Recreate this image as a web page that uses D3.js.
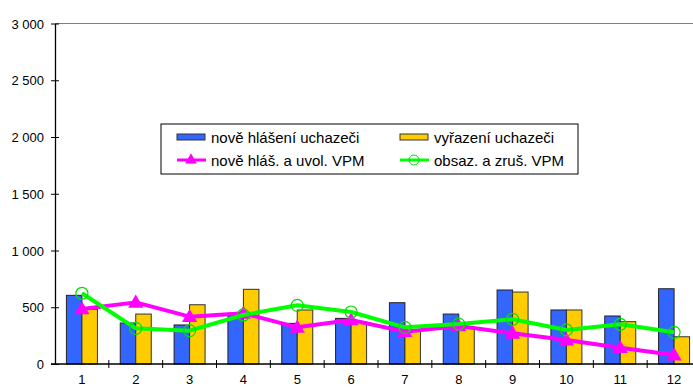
<!DOCTYPE html>
<html><head><meta charset="utf-8">
<script src="https://cdn.jsdelivr.net/npm/d3@7"></script>
<style>body{margin:0;background:#fff}svg{display:block;font-family:"Liberation Sans",Arial,sans-serif}</style>
</head><body>
<svg id="c" width="693" height="387"></svg>
<script>
const categories = ["1","2","3","4","5","6","7","8","9","10","11","12"];
const noveHlaseni = [605,361,344,426,358,402,540,440,652,476,423,663];
const vyrazeni = [482,440,522,658,476,370,291,330,634,476,373,240];
const noveVPM = [485,543,417,447,323,388,285,335,270,211,144,79];
const obsazVPM = [623,314,294,432,517,458,323,352,394,300,350,279];
const yTicks = [0,500,1000,1500,2000,2500,3000];
const legendLabels = ["nově hlášení uchazeči","vyřazení uchazeči","nově hláš. a uvol. VPM","obsaz. a zruš. VPM"];

const svg = d3.select("#c");
const x0 = 55, x1 = 701, yTop = 23.5, yBot = 364;
const x = d3.scaleBand().domain(categories).range([x0, x1]);
const y = d3.scaleLinear().domain([0,3000]).range([yBot, yTop]);
const fmt = v => d3.format(",")(v).replace(/,/g, " ");
const bw = 15.5;

// top border
svg.append("line").attr("x1",x0).attr("x2",x1).attr("y1",yTop).attr("y2",yTop).attr("stroke","#808080").attr("stroke-width",1);

// bars
const g = svg.append("g");
g.selectAll(".b1").data(categories).join("rect")
  .attr("x", d => x(d)+x.bandwidth()/2-bw).attr("width", bw)
  .attr("y", (d,i) => y(noveHlaseni[i])).attr("height", (d,i) => yBot - y(noveHlaseni[i]))
  .attr("fill","#3366FF").attr("stroke","#222").attr("stroke-width",1);
g.selectAll(".b2").data(categories).join("rect")
  .attr("x", d => x(d)+x.bandwidth()/2).attr("width", bw)
  .attr("y", (d,i) => y(vyrazeni[i])).attr("height", (d,i) => yBot - y(vyrazeni[i]))
  .attr("fill","#FFCC00").attr("stroke","#333").attr("stroke-width",1);

// axes
const yAxis = d3.axisLeft(y).tickValues(yTicks).tickFormat(fmt).tickSizeInner(4).tickSizeOuter(0);
const ya = svg.append("g").attr("transform",`translate(${x0},0)`).call(yAxis);
ya.selectAll(".tick line").attr("x2",4).attr("x1",-4).attr("stroke","#000");
ya.selectAll("text").attr("x",-11).attr("dy","0.35em").style("font-size","13px").attr("fill","#000");
ya.select(".domain").attr("stroke","#000").attr("stroke-width",1.3);

svg.append("line").attr("x1",x0-4).attr("x2",x1).attr("y1",yBot).attr("y2",yBot).attr("stroke","#000").attr("stroke-width",1.3);
const bounds = categories.map(d => x(d)).concat([x1]).slice(1);
svg.selectAll(".xt").data(bounds).join("line").attr("x1",d=>d).attr("x2",d=>d).attr("y1",yBot-4).attr("y2",yBot+4).attr("stroke","#000");
svg.selectAll(".xl").data(categories).join("text").attr("x",d=>x(d)+x.bandwidth()/2).attr("y",384)
  .attr("text-anchor","middle").style("font-size","13px").text(d=>d);

// lines
const cx = d => x(d)+x.bandwidth()/2;
const line = d3.line().x(d=>cx(d[0])).y(d=>y(d[1]));
svg.append("path").datum(categories.map((c,i)=>[c,noveVPM[i]])).attr("d",line).attr("fill","none").attr("stroke","#FF00FF").attr("stroke-width",4).attr("stroke-linejoin","round");
const tri = d3.symbol().type(d3.symbolTriangle).size(100);
svg.selectAll(".tri").data(categories).join("path").attr("d",tri)
  .attr("transform",(d,i)=>`translate(${cx(d)},${y(noveVPM[i])+1})`).attr("fill","#FF00FF");
svg.append("path").datum(categories.map((c,i)=>[c,obsazVPM[i]])).attr("d",line).attr("fill","none").attr("stroke","#00FF00").attr("stroke-width",4).attr("stroke-linejoin","round");
svg.selectAll(".cir").data(categories).join("circle").attr("cx",d=>cx(d)).attr("cy",(d,i)=>y(obsazVPM[i])).attr("r",6)
  .attr("fill","none").attr("stroke","#00E000").attr("stroke-width",1.2);

// legend
const lg = svg.append("g");
lg.append("rect").attr("x",161).attr("y",124).attr("width",417).attr("height",50).attr("fill","#fff").attr("stroke","#000").attr("stroke-width",1);
const items = [{x:177,y:137,t:"bar",c:"#3366FF"},{x:400,y:137,t:"bar",c:"#FFCC00"},{x:177,y:160,t:"tri",c:"#FF00FF"},{x:400,y:160,t:"cir",c:"#00FF00"}];
items.forEach((it,i)=>{
  if(it.t==="bar"){
    lg.append("rect").attr("x",it.x).attr("y",it.y-3).attr("width",28).attr("height",6).attr("fill",it.c).attr("stroke","#333");
  } else {
    lg.append("line").attr("x1",it.x).attr("x2",it.x+29).attr("y1",it.y).attr("y2",it.y).attr("stroke",it.c).attr("stroke-width",3);
    if(it.t==="tri") lg.append("path").attr("d",d3.symbol().type(d3.symbolTriangle).size(60)).attr("transform",`translate(${it.x+14},${it.y})`).attr("fill",it.c);
    else lg.append("circle").attr("cx",it.x+14).attr("cy",it.y).attr("r",5).attr("fill","none").attr("stroke","#00E000");
  }
  lg.append("text").attr("x",it.x+34).attr("y",it.y+6).style("font-size","15px").text(legendLabels[i]);
});
</script>
</body></html>
